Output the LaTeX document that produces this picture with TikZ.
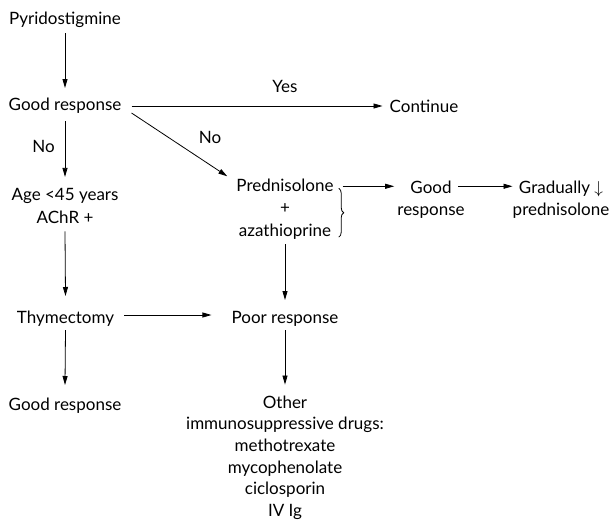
\documentclass[tikz,border=0pt]{standalone}
\usepackage{fontspec}
\setmainfont{Lato}
\usetikzlibrary{arrows.meta,decorations.pathreplacing}
\tikzset{
  lbl/.style={font=\fontsize{17}{21.7}\selectfont, inner sep=0pt, align=center, anchor=base},
  arr/.style={-{Triangle[length=9pt,width=5pt]}, line width=0.8pt}
}
\begin{document}
\begin{tikzpicture}[x=1pt,y=-1pt]
\useasboundingbox (0,0) rectangle (611,520);
\node[lbl] (pyr) at (65,24) {Pyridostigmine};
\node[lbl] (gr) at (65,110) {Good response};
\node[lbl] (no1) at (43.5,152) {No};
\node[lbl, font=\fontsize{17}{23}\selectfont] (age) at (65,223) {Age <45 years\\AChR +};
\node[lbl] (yes) at (285,92) {Yes};
\node[lbl] (cont) at (424,112) {Continue};
\node[lbl] (no2) at (210,143) {No};
\node[lbl, font=\fontsize{17}{22.5}\selectfont] (pred) at (285,236) {Prednisolone\\+\\azathioprine};
\node[lbl, font=\fontsize{17}{22}\selectfont] (g2) at (431,215) {Good\\response};
\node[lbl, font=\fontsize{17}{22}\selectfont] (gp) at (561,215) {Gradually $\downarrow$\\prednisolone};
\node[lbl] (thy) at (65.5,323) {Thymectomy};
\node[lbl] (poor) at (285,323) {Poor response};
\node[lbl] (gb) at (65,410) {Good response};
\node[lbl] (other) at (285,516.5) {Other\\immunosuppressive drugs:\\methotrexate\\mycophenolate\\ciclosporin\\IV Ig};
% connectors
\draw[arr] ([yshift=-9pt]pyr.base) -- ([yshift=22pt]gr.base);
\draw[arr] ([yshift=-11pt]gr.base) -- ([yshift=10.7pt]age.north);
\draw[arr] ([yshift=-8pt]age.south) -- ([yshift=27pt]thy.base);
\draw[arr] ([yshift=-7pt]thy.base) -- ([yshift=25pt]gb.base);
\coordinate (ty) at ([shift={(10pt,8pt)}]thy.base east);
\draw[arr] (ty) -- ([xshift=-20pt]poor.base west |- ty);
\draw[arr] ([yshift=-5pt]pred.south) -- ([yshift=23pt]poor.base);
\draw[arr] ([yshift=-7pt]poor.base) -- ([yshift=10.7pt]other.north);
\coordinate (ys) at ([shift={(10pt,4pt)}]gr.base east);
\draw[arr] (ys) -- ([xshift=-7pt]cont.west |- ys);
\draw[arr] ([shift={(10pt,-3pt)}]gr.base east) -- ([shift={(-9pt,2pt)}]pred.north west);
\draw[line width=0.8pt, decorate, decoration={brace, amplitude=5pt}]
  ([shift={(5pt,-10pt)}]pred.north east) -- ([shift={(5pt,2pt)}]pred.south east);
\coordinate (bt) at ([shift={(9pt,-8pt)}]pred.north east);
\draw[arr] (bt) -- ([xshift=-3pt]g2.west |- bt);
\coordinate (gt) at ([xshift=27pt]g2.center |- bt);
\draw[arr] (gt) -- (gp.west |- gt);
\end{tikzpicture}
\end{document}
